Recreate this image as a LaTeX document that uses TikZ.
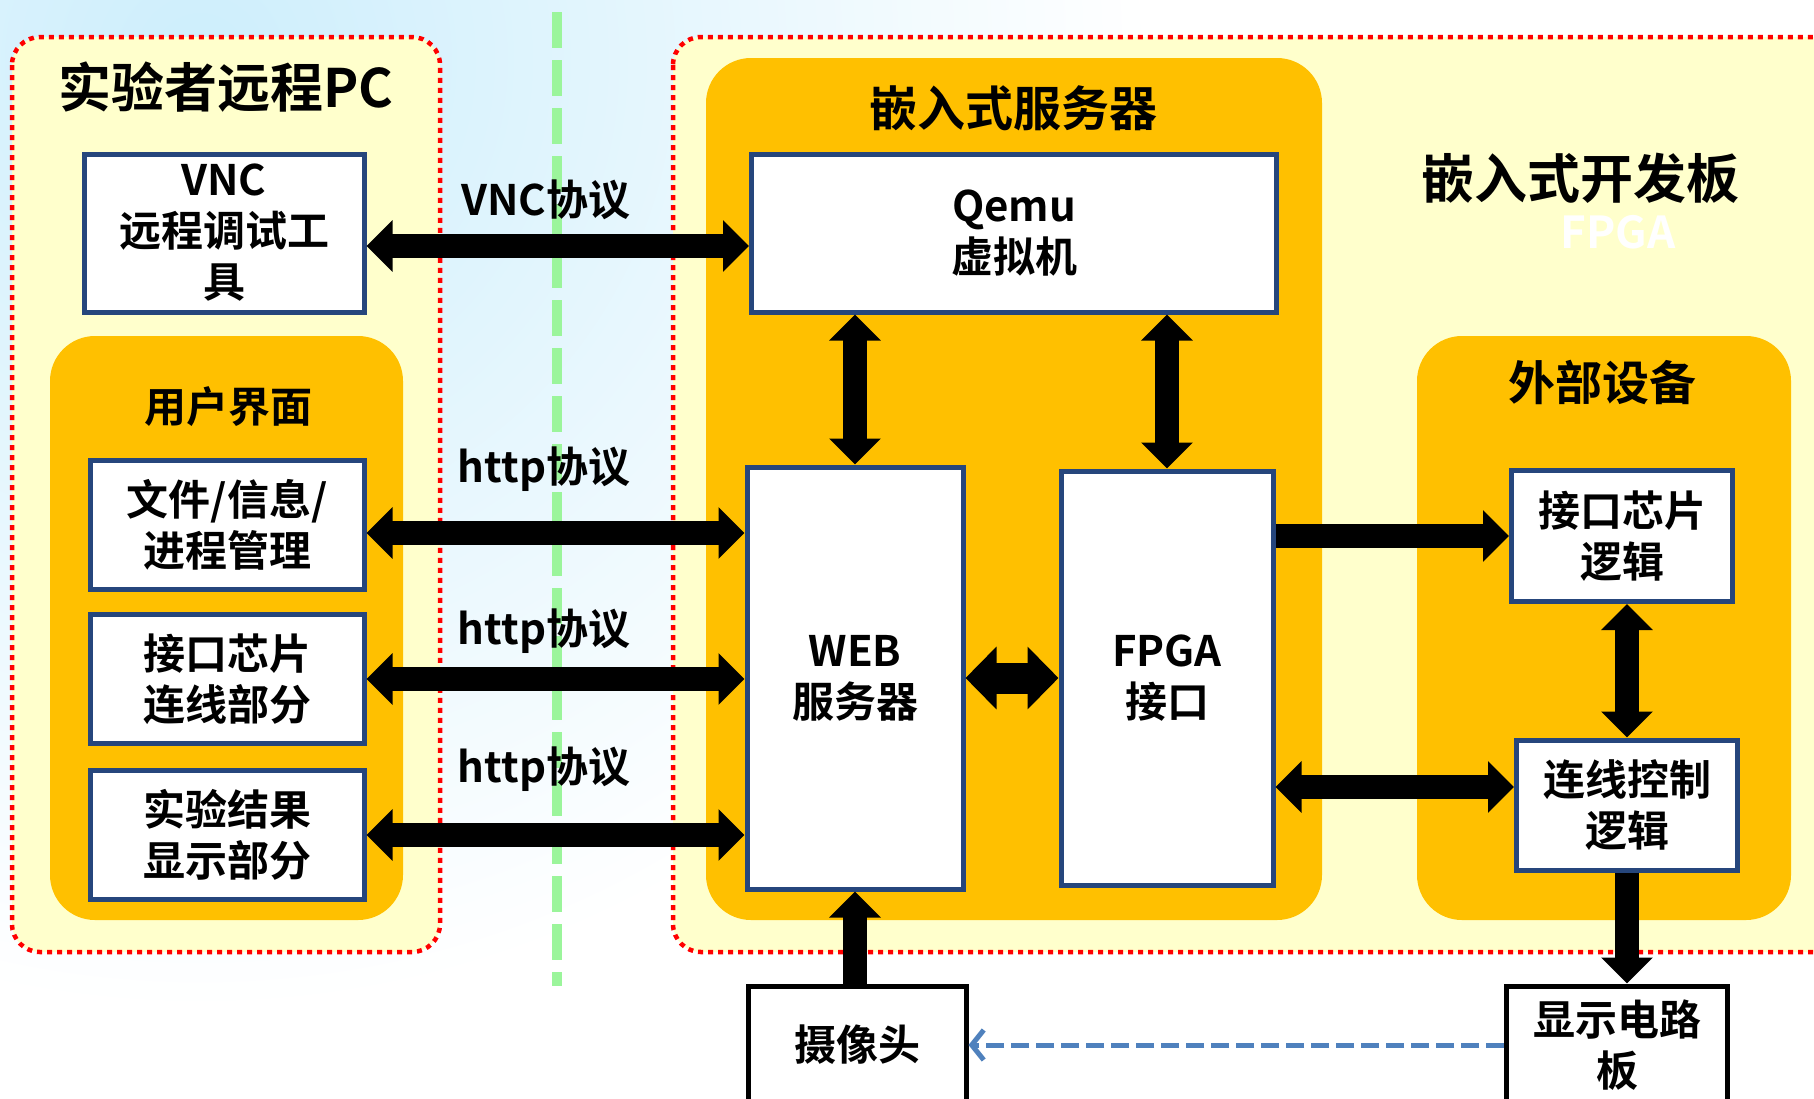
\documentclass[tikz,border=0pt]{standalone}
\usepackage{fontspec}
\setmainfont{Noto Sans CJK SC}[BoldFont={Noto Sans CJK SC Bold}]
\usepackage{tikz}
\usetikzlibrary{arrows.meta,calc,positioning}
\definecolor{paleyel}{RGB}{255,255,204}
\definecolor{amber}{RGB}{255,192,0}
\definecolor{boxblue}{RGB}{38,70,124}
\definecolor{linkblue}{RGB}{79,129,189}
\definecolor{sepgreen}{RGB}{155,245,155}
\definecolor{skyblue}{RGB}{205,238,252}
\newcommand\bxfont{\fontsize{42}{51}\selectfont\bfseries}
\newcommand\ttlfont{\fontsize{53}{60}\selectfont\bfseries}
\tikzset{blk/.style={draw=boxblue, line width=5pt, fill=white, align=center, inner sep=0pt, font=\bxfont}}
\tikzset{region/.style={fill=paleyel, draw=red, line width=4.5pt, dash pattern=on 5pt off 5pt, rounded corners=28pt}}
\tikzstyle{pbox}=[blk, draw=black]
\tikzstyle{ttl}=[inner sep=0pt, font=\ttlfont]
\tikzstyle{lbl}=[inner sep=0pt, font=\bxfont]
\tikzstyle{fat}=[line width=24pt]
\tikzstyle{big}=[line width=31pt, >={Triangle[length=31pt,width=61pt]}]

\begin{document}
\begin{tikzpicture}[x=1pt, y=-1pt, >={Triangle[length=26pt,width=50pt]}, node distance=20pt]
\useasboundingbox (0,0) rectangle (1814,1098);
\clip (0,0) rectangle (1814,1098);
\fill[white] (0,0) rectangle (1814,1098);
\shade[inner color=skyblue, outer color=white] (200,60) circle (950pt);
% dotted areas and orange groups
\path[region] (12,37) rectangle (440,952);
\path[region] (673,37) rectangle (1850,952);
\fill[amber, rounded corners=45pt] (50,336) rectangle (403,920);
\fill[amber, rounded corners=45pt] (706,58) rectangle (1322,920);
\fill[amber, rounded corners=45pt] (1417,336) rectangle (1791,920);
\draw[sepgreen, line width=10pt, dash pattern=on 36pt off 12pt] (557,12) -- (557,986);
% titles
\node[ttl] (pcT) at (226,87) {实验者远程PC};
\node[ttl, font=\bxfont] (uiT) at (228,407) {用户界面};
\node[ttl, font=\fontsize{48}{56}\selectfont\bfseries] (srvT) at (1013,108) {嵌入式服务器};
\node[ttl] (brdT) at (1580,178) {嵌入式开发板};
\node[ttl, white, font=\fontsize{44}{50}\selectfont\bfseries] (fpgaT) at (1618,232) {FPGA};
\node[ttl, font=\fontsize{47}{54}\selectfont\bfseries] (extT) at (1602,382) {外部设备};
% blocks
\node[blk, minimum width=280pt, minimum height=158pt] (vnc) at (224,233) {VNC\\远程调试工\\具};
\node[blk, minimum width=274pt, minimum height=129pt] (file) at (227,525) {文件/信息/\\进程管理};
\node[blk, minimum width=274pt, minimum height=129pt, below=20pt of file] (chip) {接口芯片\\连线部分};
\node[blk, minimum width=274pt, minimum height=129pt, below=22pt of chip] (result) {实验结果\\显示部分};
\node[blk, minimum width=525pt, minimum height=158pt] (qemu) at (1014,233) {Qemu\\虚拟机};
\node[blk, minimum width=216pt, minimum height=422pt] (web) at (855,678) {WEB\\服务器};
\node[blk, minimum width=212pt, minimum height=414pt] (fpga) at (1167,678) {FPGA\\接口};
\node[blk, minimum width=221pt, minimum height=131pt] (ifchip) at (1622,536) {接口芯片\\逻辑};
\node[blk, minimum width=221pt, minimum height=130pt] (wire) at (1627,805) {连线控制\\逻辑};
\node[pbox, minimum width=218pt, minimum height=118pt] (cam) at (857,1045) {摄像头};
\node[pbox, minimum width=221pt, minimum height=118pt] (disp) at (1617,1045) {显示电路\\板};
% protocol labels
\node[lbl] (vncL) at (546,200) {VNC协议};
\node[lbl] (httpA) at (544,469) {http协议};
\node[lbl] (httpB) at (544,631) {http协议};
\node[lbl] (httpC) at (544,769) {http协议};
% links
\coordinate (vncR) at ([yshift=-13pt]vnc.east);
\coordinate (fileR) at ([yshift=-8pt]file.east);
\coordinate (wireL) at ([yshift=18pt]wire.west);
\path[fat, <->] (vncR) edge (vncR -| qemu.west)
  (fileR) edge (fileR -| web.west)
  (chip.east) edge (chip.east -| web.west)
  (result.east) edge (result.east -| web.west)
  (web.north) edge (web.north |- qemu.south)
  (fpga.north) edge (fpga.north |- qemu.south)
  (wireL -| fpga.east) edge (wireL)
  (wire.north |- ifchip.south) edge (wire.north);
\path[fat, ->] (ifchip.west -| fpga.east) edge (ifchip.west)
  (wire.south) edge (wire.south |- disp.north)
  (cam.north -| web.south) edge (web.south);
\path[big, <->] (web.east) edge (fpga.west);
\draw[linkblue, line width=5pt, dash pattern=on 18pt off 7pt, -{Straight Barb[length=12pt,width=30pt,line width=5pt]}] (disp.west) -- (disp.west -| cam.east);
\end{tikzpicture}
\end{document}
